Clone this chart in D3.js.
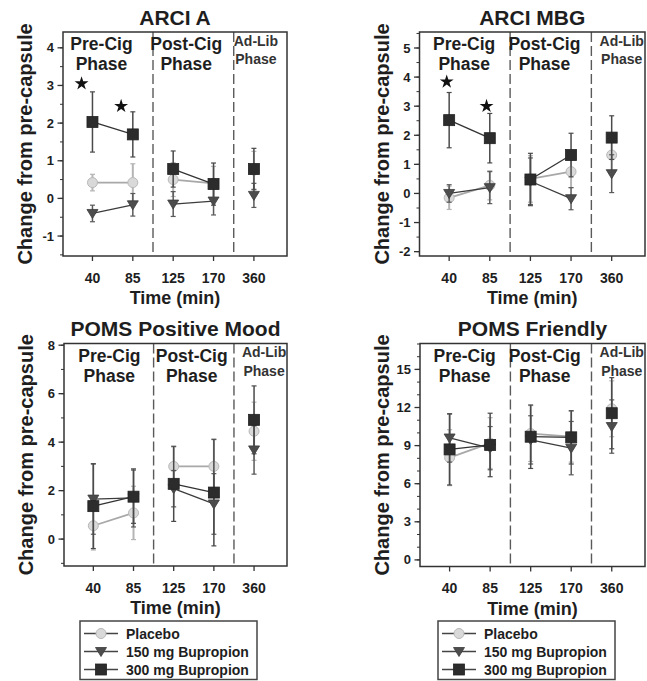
<html>
<head>
<script src="https://cdnjs.cloudflare.com/ajax/libs/d3/7.8.5/d3.min.js"></script>
<style>
body { margin: 0; background: white; }
text { font-family: "Liberation Sans", Arial, sans-serif; font-weight: bold; fill: #1e1e1e; }
</style>
</head>
<body>
<svg id="canvas" width="647" height="681"></svg>
<script>
// categories
var times = ["40", "85", "125", "170", "360"];
var seriesNames = ["Placebo", "150 mg Bupropion", "300 mg Bupropion"];

// ARCI A
var arciA_placebo = [0.42, 0.42, 0.50, 0.40, 0.75];
var arciA_placeboErr = [0.22, 0.50, 0.45, 0.45, 0.50];
var arciA_150 = [-0.40, -0.17, -0.15, -0.07, 0.08];
var arciA_150Err = [0.22, 0.30, 0.33, 0.37, 0.32];
var arciA_300 = [2.03, 1.70, 0.78, 0.38, 0.78];
var arciA_300Err = [0.80, 0.60, 0.48, 0.56, 0.55];
var arciA_starX = [-0.27, 0.71];
var arciA_starY = [3.05, 2.45];

// ARCI MBG
var mbg_placebo = [-0.15, 0.28, 0.50, 0.75, 1.32];
var mbg_placeboErr = [0.40, 0.50, 0.80, 0.55, 0.55];
var mbg_150 = [0.00, 0.20, 0.42, -0.18, 0.68];
var mbg_150Err = [0.30, 0.55, 0.80, 0.38, 0.65];
var mbg_300 = [2.52, 1.90, 0.48, 1.32, 1.92];
var mbg_300Err = [0.95, 0.85, 0.90, 0.75, 0.75];
var mbg_starX = [-0.06, 0.92];
var mbg_starY = [3.84, 3.00];

// POMS Positive Mood
var posMood_placebo = [0.55, 1.08, 3.00, 3.00, 4.45];
var posMood_placeboErr = [1.00, 1.10, 0.80, 1.10, 1.20];
var posMood_150 = [1.65, 1.70, 2.08, 1.45, 3.68];
var posMood_150Err = [1.45, 1.20, 0.75, 1.25, 1.00];
var posMood_300 = [1.36, 1.75, 2.28, 1.92, 4.92];
var posMood_300Err = [1.75, 1.10, 1.55, 2.20, 1.40];

// POMS Friendly
var friendly_placebo = [8.05, 9.20, 9.95, 9.70, 11.90];
var friendly_placeboErr = [2.20, 2.00, 2.20, 2.00, 2.20];
var friendly_150 = [9.60, 8.80, 9.45, 8.80, 10.50];
var friendly_150Err = [1.90, 1.70, 1.90, 2.10, 2.10];
var friendly_300 = [8.70, 9.05, 9.70, 9.65, 11.55];
var friendly_300Err = [2.80, 2.50, 2.50, 2.10, 2.80];

// y ticks
var arciA_ticks = [-1, 0, 1, 2, 3, 4];
var mbg_ticks = [-2, -1, 0, 1, 2, 3, 4, 5];
var posMood_ticks = [0, 2, 4, 6, 8];
var friendly_ticks = [0, 3, 6, 9, 12, 15];

var svg = d3.select("#canvas");

var styles = [
  {fill: "#d9d9d9", stroke: "#b8b8b8", line: "#a8a8a8", err: "#b5b5b5", shape: "circle"},
  {fill: "#4d4d4d", stroke: "#3a3a3a", line: "#3c3c3c", err: "#5a5a5a", shape: "triangle"},
  {fill: "#2c2c2c", stroke: "#222", line: "#333", err: "#4a4a4a", shape: "square"}
];

var panels = [
  {title: "ARCI A", box: [63, 287, 32, 256], dom: [-1.53, 4.42], ticks: arciA_ticks, minor: 0.5,
   series: [[arciA_placebo, arciA_placeboErr], [arciA_150, arciA_150Err], [arciA_300, arciA_300Err]],
   stars: [arciA_starX, arciA_starY], lab: [9, 13, 2]},
  {title: "ARCI MBG", box: [419.5, 645, 32, 256], dom: [-2.15, 5.55], ticks: mbg_ticks, minor: 0.5,
   series: [[mbg_placebo, mbg_placeboErr], [mbg_150, mbg_150Err], [mbg_300, mbg_300Err]],
   stars: [mbg_starX, mbg_starY], lab: [15, 14, 10]},
  {title: "POMS Positive Mood", box: [64, 287, 343.5, 566], dom: [-1.11, 8.07], ticks: posMood_ticks, minor: 1,
   series: [[posMood_placebo, posMood_placeboErr], [posMood_150, posMood_150Err], [posMood_300, posMood_300Err]],
   stars: null, lab: [16, 18, 10]},
  {title: "POMS Friendly", box: [420, 645, 343.5, 566.5], dom: [-0.52, 17.04], ticks: friendly_ticks, minor: 1,
   series: [[friendly_placebo, friendly_placeboErr], [friendly_150, friendly_150Err], [friendly_300, friendly_300Err]],
   stars: null, lab: [15, 14, 10]}
];

function drawMarker(g, shape, cx, cy, st) {
  if (shape == "circle") {
    g.append("circle").attr("cx", cx).attr("cy", cy).attr("r", 5)
      .attr("fill", st.fill).attr("stroke", st.stroke).attr("stroke-width", 1);
  } else if (shape == "triangle") {
    g.append("path").attr("d", "M" + (cx - 5.5) + "," + (cy - 4) + "L" + (cx + 5.5) + "," + (cy - 4) + "L" + cx + "," + (cy + 5) + "Z")
      .attr("fill", st.fill).attr("stroke", st.stroke).attr("stroke-width", 0.8);
  } else {
    g.append("rect").attr("x", cx - 5.5).attr("y", cy - 5.5).attr("width", 11).attr("height", 11)
      .attr("fill", st.fill).attr("stroke", st.stroke).attr("stroke-width", 0.8);
  }
}

panels.forEach(function(p, pi) {
  var L = p.box[0], R = p.box[1], T = p.box[2], B = p.box[3];
  var x = d3.scaleLinear().domain([-0.73, 4.82]).range([L, R]);
  var y = d3.scaleLinear().domain(p.dom).range([B, T]);
  var g = svg.append("g");

  var clipId = "clip" + pi;
  svg.append("clipPath").attr("id", clipId).append("rect")
    .attr("x", L).attr("y", T).attr("width", R - L).attr("height", B - T);

  // title
  g.append("text").attr("x", (L + R) / 2).attr("y", T - 7.5).attr("text-anchor", "middle")
    .style("font-size", "21px").text(p.title);

  // phase dividers
  [1.5, 3.5].forEach(function(d) {
    g.append("line").attr("x1", x(d)).attr("x2", x(d)).attr("y1", T).attr("y2", B)
      .attr("stroke", "#5a5a5a").attr("stroke-width", 1.4).attr("stroke-dasharray", "10,4");
  });

  // phase labels
  var lab = g.append("g").attr("clip-path", "url(#" + clipId + ")");
  [["Pre-Cig", "Phase", x(0) + p.lab[0], 17.5], ["Post-Cig", "Phase", x(2) + p.lab[1], 17.5]].forEach(function(d) {
    lab.append("text").attr("x", d[2]).attr("y", T + 18).attr("text-anchor", "middle").style("font-size", d[3] + "px").text(d[0]);
    lab.append("text").attr("x", d[2]).attr("y", T + 38).attr("text-anchor", "middle").style("font-size", d[3] + "px").text(d[1]);
  });
  lab.append("text").attr("x", x(4) + p.lab[2]).attr("y", T + 13.5).attr("text-anchor", "middle")
    .style("font-size", "14px").style("fill", "#333").text("Ad-Lib");
  lab.append("text").attr("x", x(4) + p.lab[2]).attr("y", T + 32).attr("text-anchor", "middle")
    .style("font-size", "14px").style("fill", "#333").text("Phase");

  // series
  p.series.forEach(function(s, si) {
    var st = styles[si];
    var vals = s[0], errs = s[1];
    var sg = g.append("g");
    vals.forEach(function(v, i) {
      var xi = x(i);
      sg.append("line").attr("x1", xi).attr("x2", xi).attr("y1", y(v - errs[i])).attr("y2", y(v + errs[i]))
        .attr("stroke", st.err).attr("stroke-width", si == 0 ? 2 : 1.5);
      [v - errs[i], v + errs[i]].forEach(function(e) {
        sg.append("line").attr("x1", xi - 2.5).attr("x2", xi + 2.5).attr("y1", y(e)).attr("y2", y(e))
          .attr("stroke", st.err).attr("stroke-width", 1.2);
      });
    });
    [[0, 2], [2, 4]].forEach(function(seg) {
      var pts = vals.slice(seg[0], seg[1]);
      sg.append("path").attr("d", d3.line().x(function(d, i) { return x(seg[0] + i); }).y(function(d) { return y(d); })(pts))
        .attr("fill", "none").attr("stroke", st.line).attr("stroke-width", si == 0 ? 1.8 : 1.3);
    });
    vals.forEach(function(v, i) {
      drawMarker(sg, st.shape, x(i), y(v), st);
    });
  });

  // stars
  if (p.stars) {
    p.stars[0].forEach(function(sx, i) {
      g.append("path").attr("d", d3.symbol().type(d3.symbolStar).size(60)())
        .attr("transform", "translate(" + x(sx) + "," + y(p.stars[1][i]) + ")")
        .attr("fill", "#111");
    });
  }

  // frame
  g.append("rect").attr("x", L).attr("y", T).attr("width", R - L).attr("height", B - T)
    .attr("fill", "none").attr("stroke", "#333").attr("stroke-width", 1.5);

  // y axis ticks
  var minorTicks = d3.range(Math.ceil(p.dom[0] / p.minor) * p.minor, p.dom[1], p.minor);
  minorTicks.forEach(function(t) {
    g.append("line").attr("x1", L - 3).attr("x2", L).attr("y1", y(t)).attr("y2", y(t))
      .attr("stroke", "#333").attr("stroke-width", 1);
  });
  p.ticks.forEach(function(t) {
    g.append("line").attr("x1", L - 5.5).attr("x2", L).attr("y1", y(t)).attr("y2", y(t))
      .attr("stroke", "#333").attr("stroke-width", 1.3);
    g.append("text").attr("x", L - 9).attr("y", y(t) + 4.5).attr("text-anchor", "end")
      .style("font-size", "13px").text(t);
  });

  // x axis ticks
  times.forEach(function(t, i) {
    g.append("line").attr("x1", x(i)).attr("x2", x(i)).attr("y1", B).attr("y2", B + 5)
      .attr("stroke", "#333").attr("stroke-width", 1.3);
    g.append("text").attr("x", x(i)).attr("y", B + 26.5).attr("text-anchor", "middle")
      .style("font-size", "14px").text(t);
  });

  // axis labels
  g.append("text").attr("x", (L + R) / 2).attr("y", B + 48).attr("text-anchor", "middle")
    .style("font-size", "18px").text("Time (min)");
  g.append("text").attr("transform", "translate(" + (L - 31) + "," + ((T + B) / 2) + ") rotate(-90)")
    .attr("text-anchor", "middle").style("font-size", "20px").text("Change from pre-capsule");
});

// legends
[80, 438].forEach(function(lx) {
  var lg = svg.append("g");
  lg.append("rect").attr("x", lx).attr("y", 621).attr("width", 177).attr("height", 58.5)
    .attr("fill", "white").attr("stroke", "#444").attr("stroke-width", 1.5);
  seriesNames.forEach(function(n, i) {
    var cy = 633.5 + i * 18;
    var st = styles[i];
    lg.append("line").attr("x1", lx + 4).attr("x2", lx + 38).attr("y1", cy).attr("y2", cy)
      .attr("stroke", "#444").attr("stroke-width", 1.3);
    drawMarker(lg, st.shape, lx + 21, cy, st);
    lg.append("text").attr("x", lx + 46).attr("y", cy + 5).style("font-size", "14px").text(n);
  });
});
</script>
</body>
</html>
